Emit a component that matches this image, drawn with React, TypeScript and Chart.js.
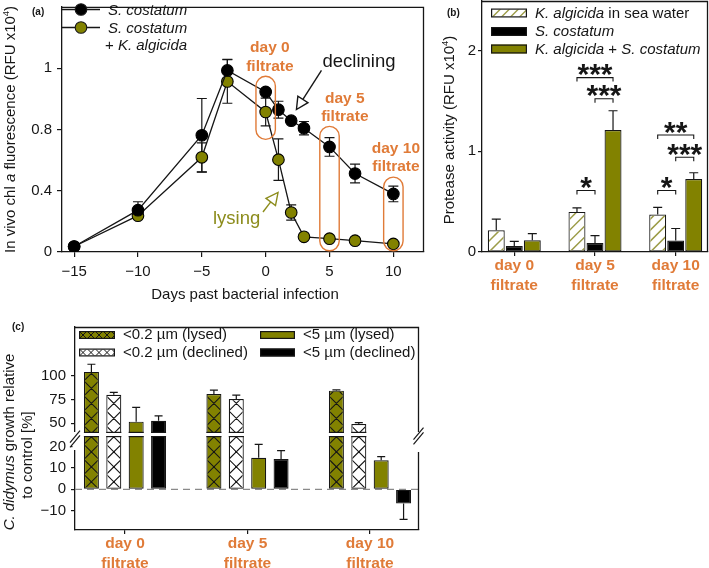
import { useEffect, useRef } from 'react';
import { Chart, registerables } from 'chart.js';

Chart.register(...registerables);

const W = 709;
const H = 568;
const FONT = "'Liberation Sans', Arial, Helvetica, sans-serif";
const INK = '#161616';
const OLIVE = '#828200';
const HATCH = '#9c9c48';
const ORANGE = '#e07b38';
const LYS = '#8c8c1c';

/* ---------- panel (a): in vivo chl a fluorescence ---------- */
const daysA = [-15, -10, -5, -3, 0, 1, 2, 3, 5, 7, 10];
const costatumA = [0.036, 0.273, 0.762, 1.185, 1.045, 0.929, 0.857, 0.808, 0.686, 0.512, 0.379];
const costatumErrA = [0, 0.055, 0.24, 0.072, 0.02, 0.055, 0.012, 0.044, 0.061, 0.061, 0.051];
const infectedA = [0.036, 0.237, 0.618, 1.113, 0.914, 0.603, 0.258, 0.099, 0.087, 0.074, 0.053];
const infectedErrA = [0, 0.02, 0.095, 0.142, 0.091, 0.135, 0.05, 0.01, 0.01, 0.008, 0.008];
const xTicksA = [-15, -10, -5, 0, 5, 10];
const yTicksA = [0, 0.4, 0.8, 1.2];
const yTickLabelsA = ['0', '0.4', '0.8', '1'];
const filtrateDaysA = [0, 5, 10];
const filtrateTopsA = [1.147, 0.82, 0.489];
const filtrateBottomsA = [0.735, 0.008, 0.008];

/* ---------- panel (b): protease activity ---------- */
const groupLabels = ['day 0', 'day 5', 'day 10'];
const seaWaterB = [0.216, 0.398, 0.372];
const seaWaterErrB = [0.11, 0.04, 0.07];
const costatumB = [0.06, 0.09, 0.113];
const costatumErrB = [0.046, 0.073, 0.12];
const mixB = [0.116, 1.211, 0.723];
const mixErrB = [0.067, 0.19, 0.063];
const yTicksB = [0, 1, 2];
const sigGroupB = [1, 1, 1, 2, 2, 2];
const sigFromB = [0, 1, 0, 0, 1, 0];
const sigToB = [2, 2, 1, 2, 2, 1];
const sigLevelB = [1.73, 1.52, 0.61, 1.16, 0.94, 0.61];
const sigStarsB = ['***', '***', '*', '**', '***', '*'];

/* ---------- panel (c): C. didymus growth ---------- */
const lysed02C = [104, 80.8, 84.3];
const lysed02ErrC = [8, 4, 0.7];
const declined02C = [80, 75.5, 49.3];
const declined02ErrC = [2.5, 4, 1.4];
const lysed5C = [51.7, 14.8, 13.6];
const lysed5ErrC = [15, 6.3, 1.7];
const declined5C = [52.7, 14.2, -6.6];
const declined5ErrC = [5, 3.9, 7.5];
const yTicksCTop = [50, 75, 100];
const yTicksCBottom = [-10, 0, 10, 20];
const groupTicks = [0, 1, 2];

type Run = { t: string; it?: boolean; b?: boolean; sup?: boolean };

function fnt(size: number, it?: boolean, b?: boolean) {
  return `${it ? 'italic ' : ''}${b ? 'bold ' : ''}${size}px ${FONT}`;
}

function runsWidth(ctx: CanvasRenderingContext2D, runs: Run[], size: number) {
  let w = 0;
  for (const r of runs) {
    ctx.font = fnt(r.sup ? size * 0.62 : size, r.it, r.b);
    w += ctx.measureText(r.t).width;
  }
  return w;
}

function drawRuns(
  ctx: CanvasRenderingContext2D,
  runs: Run[],
  x: number,
  y: number,
  size: number,
  align: 'left' | 'center' | 'right',
  color: string
) {
  const w = runsWidth(ctx, runs, size);
  let cx = align === 'left' ? x : align === 'center' ? x - w / 2 : x - w;
  ctx.save();
  ctx.fillStyle = color;
  ctx.textAlign = 'left';
  ctx.textBaseline = 'middle';
  for (const r of runs) {
    ctx.font = fnt(r.sup ? size * 0.62 : size, r.it, r.b);
    ctx.fillText(r.t, cx, r.sup ? y - size * 0.3 : y);
    cx += ctx.measureText(r.t).width;
  }
  ctx.restore();
}

function drawVertical(ctx: CanvasRenderingContext2D, runs: Run[], x: number, y: number, size: number, color: string) {
  ctx.save();
  ctx.translate(x, y);
  ctx.rotate(-Math.PI / 2);
  drawRuns(ctx, runs, 0, 0, size, 'center', color);
  ctx.restore();
}

function fixedAxis(size: number) {
  return (s: any) => {
    if (s.isHorizontal()) s.height = size;
    else s.width = size;
    s.paddingTop = 0;
    s.paddingBottom = 0;
    s.paddingLeft = 0;
    s.paddingRight = 0;
  };
}

function tickSet(values: number[]) {
  return (s: any) => {
    s.ticks = values.map((v) => ({ value: v }));
  };
}

const minus = (v: number) => String(v).replace('-', '\u2212');

function linAxis(o: {
  min: number;
  max: number;
  ticks: number[];
  size: number;
  tickLen: number;
  pad: number;
  labels?: (v: number) => any;
  font?: any;
  color?: string;
  display?: boolean;
}) {
  return {
    type: 'linear',
    min: o.min,
    max: o.max,
    offset: false,
    display: o.display ?? true,
    afterBuildTicks: tickSet(o.ticks),
    afterFit: fixedAxis(o.size),
    grid: { drawOnChartArea: false, drawTicks: true, tickLength: o.tickLen, color: INK, lineWidth: 1.2, offset: false },
    border: { display: true, color: INK, width: 1.3 },
    ticks: {
      autoSkip: false,
      maxRotation: 0,
      minRotation: 0,
      padding: o.pad,
      color: o.color ?? INK,
      font: o.font ?? { family: FONT, size: 15, lineHeight: '18px' },
      callback: (v: number) => (o.labels ? o.labels(v) : minus(v)),
    },
  };
}

const dayLabelFont = { family: FONT, size: 15.5, weight: 'bold', lineHeight: '19.5px' };
const dayLabel = (v: number) => [groupLabels[v], 'filtrate'];

function openArrow(
  ctx: CanvasRenderingContext2D,
  x1: number,
  y1: number,
  x2: number,
  y2: number,
  color: string
) {
  const len = 12;
  const half = 6;
  const dx = x2 - x1;
  const dy = y2 - y1;
  const d = Math.hypot(dx, dy);
  const ux = dx / d;
  const uy = dy / d;
  const bx = x2 - ux * len;
  const by = y2 - uy * len;
  ctx.save();
  ctx.strokeStyle = color;
  ctx.lineWidth = 1.4;
  ctx.beginPath();
  ctx.moveTo(x1, y1);
  ctx.lineTo(bx, by);
  ctx.stroke();
  ctx.beginPath();
  ctx.moveTo(x2, y2);
  ctx.lineTo(bx - uy * half, by + ux * half);
  ctx.lineTo(bx + uy * half, by - ux * half);
  ctx.closePath();
  ctx.fillStyle = '#fff';
  ctx.fill();
  ctx.stroke();
  ctx.restore();
}

function capsule(ctx: CanvasRenderingContext2D, l: number, t: number, w: number, h: number) {
  const r = Math.min(w, h) / 2;
  ctx.beginPath();
  ctx.moveTo(l + r, t);
  ctx.arcTo(l + w, t, l + w, t + h, r);
  ctx.arcTo(l + w, t + h, l, t + h, r);
  ctx.arcTo(l, t + h, l, t, r);
  ctx.arcTo(l, t, l + w, t, r);
  ctx.closePath();
}

type Rect = { l: number; t: number; r: number; b: number };

function crossFill(ctx: CanvasRenderingContext2D, rc: Rect, cw: number, ch: number, ax: number, ay: number, color: string, lw: number) {
  if (rc.r <= rc.l || rc.b <= rc.t) return;
  ctx.save();
  ctx.beginPath();
  ctx.rect(rc.l, rc.t, rc.r - rc.l, rc.b - rc.t);
  ctx.clip();
  ctx.strokeStyle = color;
  ctx.lineWidth = lw;
  ctx.beginPath();
  const i0 = Math.floor((rc.l - ax) / cw) - 1;
  const i1 = Math.ceil((rc.r - ax) / cw) + 1;
  const j0 = Math.floor((rc.t - ay) / ch) - 1;
  const j1 = Math.ceil((rc.b - ay) / ch) + 1;
  for (let i = i0; i <= i1; i++) {
    for (let j = j0; j <= j1; j++) {
      const x0 = ax + i * cw;
      const y0 = ay + j * ch;
      ctx.moveTo(x0, y0);
      ctx.lineTo(x0 + cw, y0 + ch);
      ctx.moveTo(x0 + cw, y0);
      ctx.lineTo(x0, y0 + ch);
    }
  }
  ctx.stroke();
  ctx.restore();
}

function diagFill(ctx: CanvasRenderingContext2D, rc: Rect, step: number, anchor: number, color: string, lw: number) {
  if (rc.r <= rc.l || rc.b <= rc.t) return;
  ctx.save();
  ctx.beginPath();
  ctx.rect(rc.l, rc.t, rc.r - rc.l, rc.b - rc.t);
  ctx.clip();
  ctx.strokeStyle = color;
  ctx.lineWidth = lw;
  ctx.beginPath();
  const span = rc.r - rc.l + rc.b - rc.t + 4;
  const start = anchor + Math.ceil((rc.b + (rc.r - rc.l) - anchor) / step) * step;
  for (let y0 = start; y0 >= rc.t - step; y0 -= step) {
    ctx.moveTo(rc.l - 1, y0 + 1);
    ctx.lineTo(rc.l + span, y0 - span);
  }
  ctx.stroke();
  ctx.restore();
}

function barRect(el: any, inset: number): Rect {
  const p = el.getProps(['x', 'y', 'base', 'width'], true);
  return {
    l: p.x - p.width / 2 + inset,
    r: p.x + p.width / 2 - inset,
    t: Math.min(p.y, p.base) + inset,
    b: Math.max(p.y, p.base) - inset,
  };
}

function clipRect(a: Rect, area: any): Rect {
  return {
    l: Math.max(a.l, area.left),
    r: Math.min(a.r, area.right),
    t: Math.max(a.t, area.top),
    b: Math.min(a.b, area.bottom),
  };
}

function decorateBars(chart: any, capHalf: number) {
  const ctx: CanvasRenderingContext2D = chart.ctx;
  const area = chart.chartArea;
  const ys = chart.scales.y;
  const zero = ys.getPixelForValue(0);
  chart.data.datasets.forEach((ds: any, di: number) => {
    const meta = chart.getDatasetMeta(di);
    meta.data.forEach((el: any) => {
      const rc = clipRect(barRect(el, 1.2), area);
      if (ds.hatch === 'cross') {
        const full = barRect(el, 0);
        crossFill(ctx, rc, full.r - full.l, full.r - full.l, full.l, zero, INK, 1.1);
      } else if (ds.hatch === 'diag') {
        diagFill(ctx, rc, 11, zero, HATCH, 1.5);
      }
    });
  });
  ctx.save();
  ctx.beginPath();
  ctx.rect(area.left - 8, area.top, area.right - area.left + 16, area.bottom - area.top);
  ctx.clip();
  ctx.strokeStyle = INK;
  ctx.lineWidth = 1.2;
  chart.data.datasets.forEach((ds: any, di: number) => {
    const meta = chart.getDatasetMeta(di);
    meta.data.forEach((el: any, i: number) => {
      const v = ds.data[i].y;
      const e = ds.errors[i];
      if (!e) return;
      const dir = v < 0 ? -1 : 1;
      const p0 = ys.getPixelForValue(v);
      const p1 = ys.getPixelForValue(v + dir * e);
      ctx.beginPath();
      ctx.moveTo(el.x, p0);
      ctx.lineTo(el.x, p1);
      ctx.moveTo(el.x - capHalf, p1);
      ctx.lineTo(el.x + capHalf, p1);
      ctx.stroke();
    });
  });
  ctx.restore();
}

function breakEdges(chart: any, edge: 'top' | 'bottom') {
  const ctx: CanvasRenderingContext2D = chart.ctx;
  const area = chart.chartArea;
  const ys = chart.scales.y;
  ctx.save();
  ctx.strokeStyle = INK;
  ctx.lineWidth = 1.2;
  chart.data.datasets.forEach((ds: any, di: number) => {
    const meta = chart.getDatasetMeta(di);
    meta.data.forEach((el: any, i: number) => {
      const v = ds.data[i].y;
      const crosses = edge === 'bottom' ? v > ys.min : v > ys.max;
      if (!crosses) return;
      const full = barRect(el, 0);
      const y = edge === 'bottom' ? area.bottom - 0.6 : area.top + 0.6;
      ctx.beginPath();
      ctx.moveTo(full.l, y);
      ctx.lineTo(full.r, y);
      ctx.stroke();
    });
  });
  ctx.restore();
}

function swatch(ctx: CanvasRenderingContext2D, l: number, cy: number, w: number, h: number, fill: string, hatch?: string) {
  const t = cy - h / 2;
  ctx.save();
  ctx.fillStyle = fill;
  ctx.fillRect(l, t, w, h);
  const inner = { l: l + 1, t: t + 1, r: l + w - 1, b: t + h - 1 };
  if (hatch === 'cross') crossFill(ctx, inner, h, h, l, t, INK, 1);
  if (hatch === 'diag') diagFill(ctx, inner, 9, t + h, HATCH, 1.4);
  ctx.strokeStyle = INK;
  ctx.lineWidth = 1.2;
  ctx.strokeRect(l + 0.6, t + 0.6, w - 1.2, h - 1.2);
  ctx.restore();
}

function panelTag(ctx: CanvasRenderingContext2D, text: string, x: number, y: number) {
  drawRuns(ctx, [{ t: text, b: true }], x, y, 10, 'left', INK);
}

/* ---------------- chart builders ---------------- */

function makeA(canvas: HTMLCanvasElement) {
  const plugin = {
    id: 'panelA',
    beforeDatasetsDraw(chart: any) {
      const ctx: CanvasRenderingContext2D = chart.ctx;
      const xs = chart.scales.x;
      const ys = chart.scales.y;
      ctx.save();
      ctx.strokeStyle = INK;
      ctx.lineWidth = 1.2;
      chart.data.datasets.forEach((ds: any) => {
        ds.data.forEach((p: any, i: number) => {
          const e = ds.errors[i];
          if (!e) return;
          const x = xs.getPixelForValue(p.x);
          const yt = ys.getPixelForValue(p.y + e);
          const yb = ys.getPixelForValue(p.y - e);
          ctx.beginPath();
          ctx.moveTo(x, yt);
          ctx.lineTo(x, yb);
          ctx.moveTo(x - 5, yt);
          ctx.lineTo(x + 5, yt);
          ctx.moveTo(x - 5, yb);
          ctx.lineTo(x + 5, yb);
          ctx.stroke();
        });
      });
      ctx.restore();
    },
    afterDatasetsDraw(chart: any) {
      const ctx: CanvasRenderingContext2D = chart.ctx;
      const xs = chart.scales.x;
      const ys = chart.scales.y;
      ctx.save();
      ctx.strokeStyle = ORANGE;
      ctx.lineWidth = 1.4;
      filtrateDaysA.forEach((d, i) => {
        const l = xs.getPixelForValue(d - 0.76);
        const r = xs.getPixelForValue(d + 0.76);
        const t = ys.getPixelForValue(filtrateTopsA[i]);
        const b = ys.getPixelForValue(filtrateBottomsA[i]);
        capsule(ctx, l, t, r - l, b - t);
        ctx.stroke();
      });
      ctx.restore();
    },
    afterDraw(chart: any) {
      const ctx: CanvasRenderingContext2D = chart.ctx;
      const a = chart.chartArea;
      const xs = chart.scales.x;
      const ys = chart.scales.y;
      const P = (x: number, y: number) => [xs.getPixelForValue(x), ys.getPixelForValue(y)];
      ctx.save();
      ctx.strokeStyle = INK;
      ctx.lineWidth = 1.3;
      ctx.beginPath();
      ctx.moveTo(a.left, a.top + 0.5);
      ctx.lineTo(a.right - 0.5, a.top + 0.5);
      ctx.lineTo(a.right - 0.5, a.bottom);
      ctx.stroke();
      // legend
      const rows: [number, string][] = [
        [9.5, '#000'],
        [27.5, OLIVE],
      ];
      rows.forEach(([y, c]) => {
        ctx.strokeStyle = INK;
        ctx.lineWidth = 1.3;
        ctx.beginPath();
        ctx.moveTo(a.left, y);
        ctx.lineTo(a.left + 38, y);
        ctx.stroke();
        ctx.beginPath();
        ctx.arc(a.left + 19, y, 5.8, 0, Math.PI * 2);
        ctx.fillStyle = c;
        ctx.fill();
        ctx.lineWidth = 1.1;
        ctx.stroke();
      });
      ctx.restore();
      drawRuns(ctx, [{ t: 'S. costatum', it: true }], a.left + 46, 11, 15, 'left', INK);
      drawRuns(ctx, [{ t: 'S. costatum', it: true }], a.left + 46, 29, 15, 'left', INK);
      drawRuns(ctx, [{ t: '+ ' }, { t: 'K. algicida', it: true }], a.left + 43, 46, 15, 'left', INK);
      // filtrate labels
      const lab = (x: number, y1: number, y2: number, t1: string) => {
        const [px, py1] = P(x, y1);
        const [, py2] = P(x, y2);
        drawRuns(ctx, [{ t: t1, b: true }], px, py1, 15.5, 'center', ORANGE);
        drawRuns(ctx, [{ t: 'filtrate', b: true }], px, py2, 15.5, 'center', ORANGE);
      };
      lab(0.33, 1.332, 1.211, 'day 0');
      lab(6.2, 1.0, 0.886, 'day 5');
      lab(10.2, 0.676, 0.554, 'day 10');
      // declining / lysing
      const [dx, dy] = P(4.45, 1.243);
      drawRuns(ctx, [{ t: 'declining' }], dx, dy, 18.5, 'left', INK);
      const [d1x, d1y] = P(4.37, 1.185);
      const [d2x, d2y] = P(2.41, 0.93);
      openArrow(ctx, d1x, d1y, d2x, d2y, INK);
      const [lx, ly] = P(-4.13, 0.217);
      drawRuns(ctx, [{ t: 'lysing' }], lx, ly, 18.5, 'left', LYS);
      const [l1x, l1y] = P(-0.21, 0.261);
      const [l2x, l2y] = P(0.97, 0.389);
      openArrow(ctx, l1x, l1y, l2x, l2y, LYS);
      // titles
      drawRuns(ctx, [{ t: 'Days past bacterial infection' }], (a.left + a.right) / 2 + 2, 295, 15, 'center', INK);
      drawVertical(
        ctx,
        [{ t: 'In vivo chl ' }, { t: 'a', it: true }, { t: ' fluorescence (RFU x10' }, { t: '4', sup: true }, { t: ')' }],
        11,
        (a.top + a.bottom) / 2,
        15,
        INK
      );
      panelTag(ctx, '(a)', 32, 12);
    },
  };

  return new Chart(canvas, {
    type: 'line',
    data: {
      datasets: [
        {
          label: 'S. costatum',
          data: daysA.map((d, i) => ({ x: d, y: costatumA[i] })),
          errors: costatumErrA,
          borderColor: INK,
          borderWidth: 1.3,
          pointRadius: 5.8,
          pointBackgroundColor: '#000',
          pointBorderColor: '#000',
          pointBorderWidth: 1.1,
        },
        {
          label: 'S. costatum + K. algicida',
          data: daysA.map((d, i) => ({ x: d, y: infectedA[i] })),
          errors: infectedErrA,
          borderColor: INK,
          borderWidth: 1.3,
          pointRadius: 5.8,
          pointBackgroundColor: OLIVE,
          pointBorderColor: '#000',
          pointBorderWidth: 1.1,
        },
      ] as any,
    },
    options: {
      responsive: false,
      animation: false,
      events: [],
      layout: { padding: { left: 22, right: 285, top: 1, bottom: 286 } },
      plugins: { legend: { display: false }, tooltip: { enabled: false } },
      scales: {
        x: linAxis({ min: -15.95, max: 12.4, ticks: xTicksA, size: 30, tickLen: 5, pad: 6 }) as any,
        y: linAxis({
          min: 0,
          max: 1.6,
          ticks: yTicksA,
          size: 40,
          tickLen: 5,
          pad: 5,
          labels: (v) => yTickLabelsA[yTicksA.indexOf(v)],
        }) as any,
      },
    },
    plugins: [plugin],
  } as any);
}

function makeB(canvas: HTMLCanvasElement) {
  const plugin = {
    id: 'panelB',
    afterDatasetsDraw(chart: any) {
      decorateBars(chart, 4.5);
    },
    afterDraw(chart: any) {
      const ctx: CanvasRenderingContext2D = chart.ctx;
      const a = chart.chartArea;
      const ys = chart.scales.y;
      ctx.save();
      ctx.strokeStyle = INK;
      ctx.lineWidth = 1.3;
      ctx.beginPath();
      ctx.moveTo(a.left, a.top + 0.5);
      ctx.lineTo(a.right - 0.5, a.top + 0.5);
      ctx.lineTo(a.right - 0.5, a.bottom);
      ctx.stroke();
      // significance brackets
      ctx.lineWidth = 1.1;
      sigGroupB.forEach((g, k) => {
        const x1 = chart.getDatasetMeta(sigFromB[k]).data[g].x;
        const x2 = chart.getDatasetMeta(sigToB[k]).data[g].x;
        const y = ys.getPixelForValue(sigLevelB[k]);
        ctx.beginPath();
        ctx.moveTo(x1, y + 4);
        ctx.lineTo(x1, y);
        ctx.lineTo(x2, y);
        ctx.lineTo(x2, y + 4);
        ctx.stroke();
        ctx.font = `bold 30px ${FONT}`;
        ctx.fillStyle = INK;
        ctx.textAlign = 'center';
        ctx.textBaseline = 'alphabetic';
        ctx.fillText(sigStarsB[k], (x1 + x2) / 2, y + 6.5);
      });
      ctx.restore();
      // legend
      const lx = 491;
      swatch(ctx, lx, 13, 36, 9, '#fff', 'diag');
      swatch(ctx, lx, 31.5, 36, 9, '#000');
      swatch(ctx, lx, 49, 36, 9, OLIVE);
      drawRuns(ctx, [{ t: 'K. algicida', it: true }, { t: ' in sea water' }], 535, 13.5, 15, 'left', INK);
      drawRuns(ctx, [{ t: 'S. costatum', it: true }], 535, 32, 15, 'left', INK);
      drawRuns(ctx, [{ t: 'K. algicida', it: true }, { t: ' + ' }, { t: 'S. costatum', it: true }], 535, 49.5, 15, 'left', INK);
      drawVertical(ctx, [{ t: 'Protease activity (RFU x10' }, { t: '4', sup: true }, { t: ')' }], 450, 130, 15, INK);
      panelTag(ctx, '(b)', 447, 13);
    },
  };
  const ds = (vals: number[], errs: number[], fill: string, hatch?: string, label?: string) => ({
    label,
    data: vals.map((v, i) => ({ x: i, y: v })),
    errors: errs,
    hatch,
    backgroundColor: fill,
    borderColor: INK,
    borderWidth: 1.2,
    borderSkipped: false,
    categoryPercentage: 0.67,
    barPercentage: 0.94,
  });
  return new Chart(canvas, {
    type: 'bar',
    data: {
      datasets: [
        ds(seaWaterB, seaWaterErrB, '#fff', 'diag', 'K. algicida in sea water'),
        ds(costatumB, costatumErrB, '#000', undefined, 'S. costatum'),
        ds(mixB, mixErrB, OLIVE, undefined, 'K. algicida + S. costatum'),
      ] as any,
    },
    options: {
      responsive: false,
      animation: false,
      events: [],
      layout: { padding: { left: 442, right: 1, top: 1, bottom: 276 } },
      plugins: { legend: { display: false }, tooltip: { enabled: false } },
      scales: {
        x: linAxis({
          min: -0.4,
          max: 2.4,
          ticks: groupTicks,
          size: 40,
          tickLen: 4,
          pad: 0,
          labels: dayLabel,
          font: dayLabelFont,
          color: ORANGE,
        }) as any,
        y: linAxis({ min: 0, max: 2.49, ticks: yTicksB, size: 40, tickLen: 4, pad: 2 }) as any,
      },
    },
    plugins: [plugin],
  } as any);
}

function datasetsC() {
  const ds = (vals: number[], errs: number[], fill: string, hatch: string | undefined, label: string) => ({
    label,
    data: vals.map((v, i) => ({ x: i, y: v })),
    errors: errs,
    hatch,
    backgroundColor: fill,
    borderColor: INK,
    borderWidth: 1.2,
    borderSkipped: false,
    categoryPercentage: 0.731,
    barPercentage: 0.67,
    clip: 0,
  });
  return [
    ds(lysed02C, lysed02ErrC, OLIVE, 'cross', '<0.2 µm (lysed)'),
    ds(declined02C, declined02ErrC, '#fff', 'cross', '<0.2 µm (declined)'),
    ds(lysed5C, lysed5ErrC, OLIVE, undefined, '<5 µm (lysed)'),
    ds(declined5C, declined5ErrC, '#000', undefined, '<5 µm (declined)'),
  ];
}

function makeCTop(canvas: HTMLCanvasElement) {
  const plugin = {
    id: 'panelCTop',
    afterDatasetsDraw(chart: any) {
      decorateBars(chart, 4);
      breakEdges(chart, 'bottom');
    },
    afterDraw(chart: any) {
      const ctx: CanvasRenderingContext2D = chart.ctx;
      const a = chart.chartArea;
      ctx.save();
      ctx.strokeStyle = INK;
      ctx.lineWidth = 1.3;
      ctx.beginPath();
      ctx.moveTo(a.left, a.top + 0.5);
      ctx.lineTo(a.right - 0.5, a.top + 0.5);
      ctx.lineTo(a.right - 0.5, a.bottom);
      ctx.stroke();
      ctx.restore();
      // legend
      swatch(ctx, 79, 335, 36, 8, OLIVE, 'cross');
      swatch(ctx, 79, 352.5, 36, 8, '#fff', 'cross');
      swatch(ctx, 260, 335, 35, 8, OLIVE);
      swatch(ctx, 260, 352.5, 35, 8, '#000');
      drawRuns(ctx, [{ t: '<0.2 µm (lysed)' }], 123, 335, 15, 'left', INK);
      drawRuns(ctx, [{ t: '<0.2 µm (declined)' }], 123, 352.5, 15, 'left', INK);
      drawRuns(ctx, [{ t: '<5 µm (lysed)' }], 303, 335, 15, 'left', INK);
      drawRuns(ctx, [{ t: '<5 µm (declined)' }], 303, 352.5, 15, 'left', INK);
      drawVertical(ctx, [{ t: 'C. didymus', it: true }, { t: ' growth relative' }], 10, 442, 15, INK);
      drawVertical(ctx, [{ t: 'to control [%]' }], 28, 455, 15, INK);
      panelTag(ctx, '(c)', 12, 327);
    },
  };
  return new Chart(canvas, {
    type: 'bar',
    data: { datasets: datasetsC() as any },
    options: {
      responsive: false,
      animation: false,
      events: [],
      layout: { padding: { left: 35, right: 290, top: 327, bottom: 135 } },
      plugins: { legend: { display: false }, tooltip: { enabled: false } },
      scales: {
        x: {
          ...(linAxis({ min: -0.408, max: 2.4, ticks: groupTicks, size: 0, tickLen: 4, pad: 0 }) as any),
          display: false,
        },
        y: linAxis({ min: 39.8, max: 151.15, ticks: yTicksCTop, size: 40, tickLen: 4, pad: 5 }) as any,
      },
    },
    plugins: [plugin],
  } as any);
}

function breakMark(ctx: CanvasRenderingContext2D, x: number, cy: number, gapTop: number, gapBottom: number) {
  ctx.save();
  ctx.fillStyle = '#fff';
  ctx.fillRect(x - 2.5, gapTop, 5, gapBottom - gapTop);
  ctx.strokeStyle = INK;
  ctx.lineWidth = 1.2;
  [-2.3, 2.3].forEach((o) => {
    ctx.beginPath();
    ctx.moveTo(x - 5, cy + 6 + o);
    ctx.lineTo(x + 5, cy - 6 + o);
    ctx.stroke();
  });
  ctx.restore();
}

function makeCBottom(canvas: HTMLCanvasElement) {
  const plugin = {
    id: 'panelCBottom',
    beforeDatasetsDraw(chart: any) {
      const ctx: CanvasRenderingContext2D = chart.ctx;
      const a = chart.chartArea;
      const y0 = chart.scales.y.getPixelForValue(0);
      ctx.save();
      ctx.strokeStyle = '#8a8a8a';
      ctx.lineWidth = 1.3;
      ctx.setLineDash([7, 5]);
      ctx.beginPath();
      ctx.moveTo(a.left, y0);
      ctx.lineTo(a.right, y0);
      ctx.stroke();
      ctx.restore();
    },
    afterDatasetsDraw(chart: any) {
      decorateBars(chart, 4);
      breakEdges(chart, 'top');
    },
    afterDraw(chart: any) {
      const ctx: CanvasRenderingContext2D = chart.ctx;
      const a = chart.chartArea;
      ctx.save();
      ctx.strokeStyle = INK;
      ctx.lineWidth = 1.3;
      ctx.beginPath();
      ctx.moveTo(a.right - 0.5, a.top);
      ctx.lineTo(a.right - 0.5, a.bottom);
      ctx.stroke();
      ctx.restore();
      breakMark(ctx, a.left, 439, 432, 450);
      breakMark(ctx, a.right - 0.5, 436, 432, 452);
    },
  };
  return new Chart(canvas, {
    type: 'bar',
    data: { datasets: datasetsC() as any },
    options: {
      responsive: false,
      animation: false,
      events: [],
      layout: { padding: { left: 35, right: 290, top: 436, bottom: 0 } },
      plugins: { legend: { display: false }, tooltip: { enabled: false } },
      scales: {
        x: linAxis({
          min: -0.408,
          max: 2.4,
          ticks: groupTicks,
          size: 38,
          tickLen: 4,
          pad: 0,
          labels: dayLabel,
          font: dayLabelFont,
          color: ORANGE,
        }) as any,
        y: linAxis({ min: -19.08, max: 25, ticks: yTicksCBottom, size: 40, tickLen: 4, pad: 5 }) as any,
      },
    },
    plugins: [plugin],
  } as any);
}

const layerStyle: any = { position: 'absolute', left: 0, top: 0, width: W, height: H };

export default function App() {
  const ra = useRef<HTMLCanvasElement>(null);
  const rb = useRef<HTMLCanvasElement>(null);
  const rct = useRef<HTMLCanvasElement>(null);
  const rcb = useRef<HTMLCanvasElement>(null);

  useEffect(() => {
    const charts = [
      makeA(ra.current as HTMLCanvasElement),
      makeB(rb.current as HTMLCanvasElement),
      makeCTop(rct.current as HTMLCanvasElement),
      makeCBottom(rcb.current as HTMLCanvasElement),
    ];
    return () => charts.forEach((c) => c.destroy());
  }, []);

  return (
    <div style={{ position: 'fixed', left: 0, top: 0, width: W, height: H, background: '#fff', overflow: 'hidden' }}>
      <canvas ref={ra} width={W} height={H} style={layerStyle} />
      <canvas ref={rb} width={W} height={H} style={layerStyle} />
      <canvas ref={rct} width={W} height={H} style={layerStyle} />
      <canvas ref={rcb} width={W} height={H} style={layerStyle} />
    </div>
  );
}
